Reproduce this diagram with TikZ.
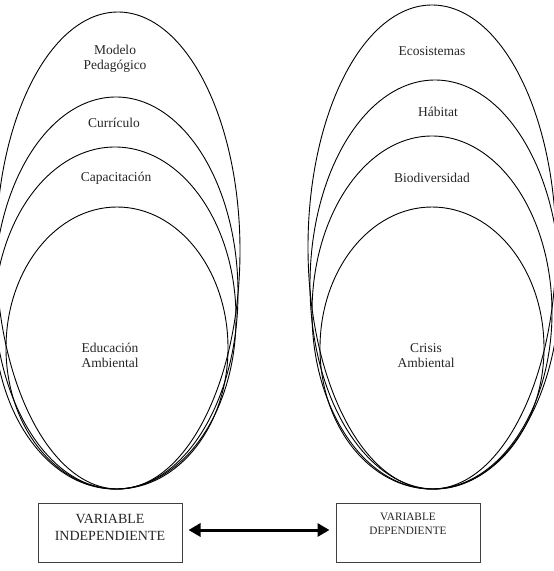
\documentclass[tikz,border=0pt]{standalone}
\usepackage{fontspec}
\setmainfont{Liberation Serif}
\usetikzlibrary{shapes.geometric,arrows.meta}
\begin{document}
\begin{tikzpicture}[x=1pt,y=-1pt,
  ell/.style={draw=black,line width=0.9pt,ellipse,inner sep=0pt,minimum width=#1},
  lbl/.style={font=\fontsize{13.5}{15}\selectfont,align=center,inner sep=0pt,text=black!85},
  vbox/.style={draw=black!75,line width=1pt,minimum width=144pt,minimum height=59pt,inner sep=0pt},
  conn/.style={line width=3pt,{Triangle[length=12pt,width=13pt]}-{Triangle[length=12pt,width=13pt]},shorten <=6pt,shorten >=6pt}]
\useasboundingbox (0,0) rectangle (554,571);
\clip (0,0) rectangle (554,571);
% left group
\node[ell=244pt,minimum height=477pt] (e1) at (118,250.5) {};
\node[ell=244pt,minimum height=392pt] (e2) at (116,293) {};
\node[ell=242pt,minimum height=342pt] (e3) at (115,318) {};
\node[ell=222pt,minimum height=282pt] (e4) at (117,348) {};
% right group
\node[ell=248pt,minimum height=484pt] (f1) at (432,247) {};
\node[ell=250pt,minimum height=409pt] (f2) at (435,284.5) {};
\node[ell=240pt,minimum height=353pt] (f3) at (432,312.5) {};
\node[ell=224pt,minimum height=282pt] (f4) at (432,348) {};
% labels
\node[lbl] (t1) at (115,58.5) {Modelo\\Pedagógico};
\node[lbl] (t2) at (114,123) {Currículo};
\node[lbl] (t3) at (116,178) {Capacitación};
\node[lbl] (t4) at (110,355.5) {Educación\\Ambiental};
\node[lbl] (s1) at (432,51) {Ecosistemas};
\node[lbl] (s2) at (438,112) {Hábitat};
\node[lbl] (s3) at (432,178) {Biodiversidad};
\node[lbl] (s4) at (426,355.5) {Crisis\\Ambiental};
% boxes
\node[vbox] (lbox) at (110,532.5) {};
\node[vbox] (rbox) at (408,532.5) {};
\node[font=\fontsize{14}{17}\selectfont,align=center,inner sep=0pt,text=black!85] (ltxt) at (110,527.5) {VARIABLE\\INDEPENDIENTE};
\node[font=\fontsize{11.3}{14}\selectfont,align=center,inner sep=0pt,text=black!85] (rtxt) at (408,524) {VARIABLE\\DEPENDIENTE};
\draw[conn] ([yshift=2.5pt]lbox.east) -- ([yshift=2.5pt]rbox.west);
\end{tikzpicture}
\end{document}
